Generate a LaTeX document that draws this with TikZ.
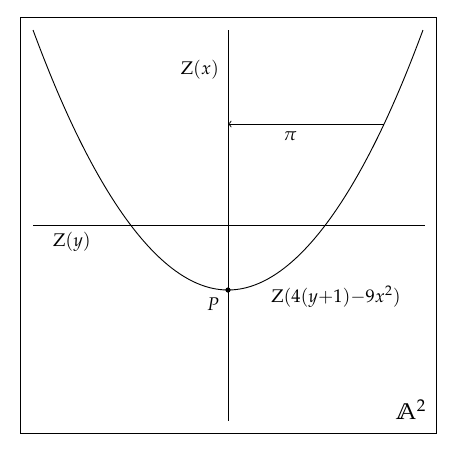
\documentclass[tikz,border=0pt]{standalone}
\usepackage{amssymb}
\usepackage{mathpazo}
\begin{document}
\begin{tikzpicture}[x=0.6pt,y=-0.6pt,
  line/.style={line width=0.55pt},
  lbl/.style={inner sep=0pt,font=\fontsize{11}{13}\selectfont}]
\useasboundingbox (0,0) rectangle (473,462);
\draw[line] (20,17) rectangle (436,433);
% axes
\coordinate (vtop) at (228,30);
\coordinate (vbot) at (228,421);
\coordinate (hl) at (33,225);
\coordinate (hr) at (425,225);
\draw[line] (vtop) -- (vbot);
\draw[line] (hl) -- (hr);
% parabola
\coordinate (pl) at (33,30);
\coordinate (P) at (228,290);
\coordinate (pr) at (423,30);
\draw[line] (pl) parabola bend (P) (pr);
\fill (P) circle (2.6);
% projection arrow
\coordinate (astart) at (384,124);
\coordinate (aend) at (228,124);
\draw[line,->] (astart) -- (aend);
% labels
\node[lbl] (zx) at (200,70) {$\mathrm{Z}(x)$};
\node[lbl] (pi) at (290,136) {$\pi$};
\node[lbl] (zy) at (72,242) {$\mathrm{Z}(y)$};
\node[lbl] (plab) at (213,304) {$P$};
\node[lbl] (zeq) at (336,297) {$\mathrm{Z}(4(y{+}1){-}9x^2)$};
\node[lbl,font=\fontsize{13.5}{16}\selectfont] (a2) at (411,410) {$\mathbb{A}^2$};
\end{tikzpicture}
\end{document}
